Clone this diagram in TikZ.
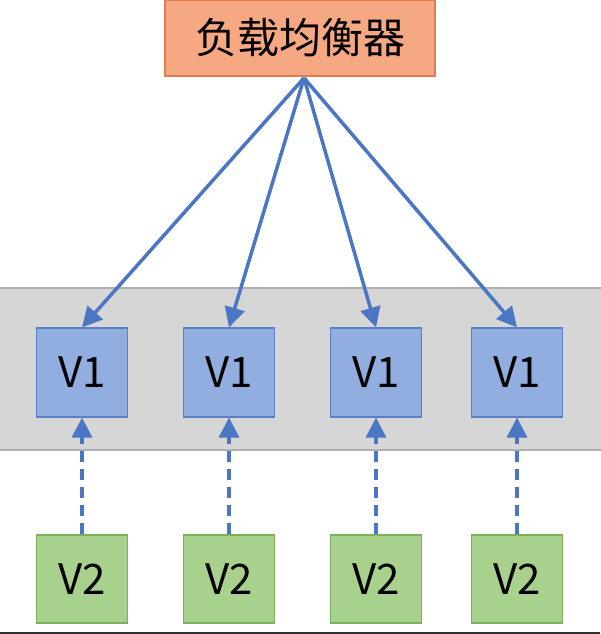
\documentclass[tikz,border=0pt]{standalone}
\usepackage{fontspec}
\setmainfont{Noto Sans CJK SC}
\usetikzlibrary{arrows.meta}
\definecolor{lbfill}{HTML}{F6A883}
\definecolor{lbdraw}{HTML}{E07C4E}
\definecolor{vafill}{HTML}{92ADE0}
\definecolor{vadraw}{HTML}{5B7FC6}
\definecolor{vbfill}{HTML}{A8D18D}
\definecolor{vbdraw}{HTML}{7DB05E}
\definecolor{band}{HTML}{D6D6D6}
\definecolor{banddraw}{HTML}{B0B0B0}
\definecolor{arr}{HTML}{4A76C4}
\tikzset{
  lbbox/.style={draw=lbdraw, fill=lbfill, line width=1.2pt, minimum width=270pt, minimum height=76pt, inner sep=0pt, font=\fontsize{42}{44}\selectfont},
  vabox/.style={draw=vadraw, fill=vafill, line width=1.2pt, minimum width=91pt, minimum height=89pt, inner sep=0pt, font=\fontsize{42}{44}\selectfont},
  vbbox/.style={draw=vbdraw, fill=vbfill, line width=1.2pt, minimum width=91pt, minimum height=88pt, inner sep=0pt, font=\fontsize{42}{44}\selectfont},
  solidarrow/.style={draw=arr, line width=3.5pt, -{Triangle[length=20pt,width=20pt]}},
  dasharrow/.style={draw=arr, line width=3.5pt, dash pattern=on 11pt off 7pt, -{Triangle[length=20pt,width=20pt]}}
}
\begin{document}
\begin{tikzpicture}[x=1pt,y=-1pt]
\useasboundingbox (0,0) rectangle (600,634);
\fill[white] (0,0) rectangle (600,634);
\draw[draw=banddraw, fill=band, line width=1.2pt] (-2,288) rectangle (602,450);
\draw[black!80, line width=2.5pt] (0,633) -- (600,633);
\node[lbbox] (lb) at (300,38) {负载均衡器};
\coordinate (src) at (304,78);
\foreach \i/\x in {1/82,2/229,3/376,4/517}{
  \node[vabox] (a\i) at (\x,372.5) {V1};
  \node[vbbox] (b\i) at (\x,579) {V2};
  \draw[solidarrow] (src) -- (a\i.north);
  \draw[dasharrow] (b\i.north) -- (a\i.south);
}
\end{tikzpicture}
\end{document}
